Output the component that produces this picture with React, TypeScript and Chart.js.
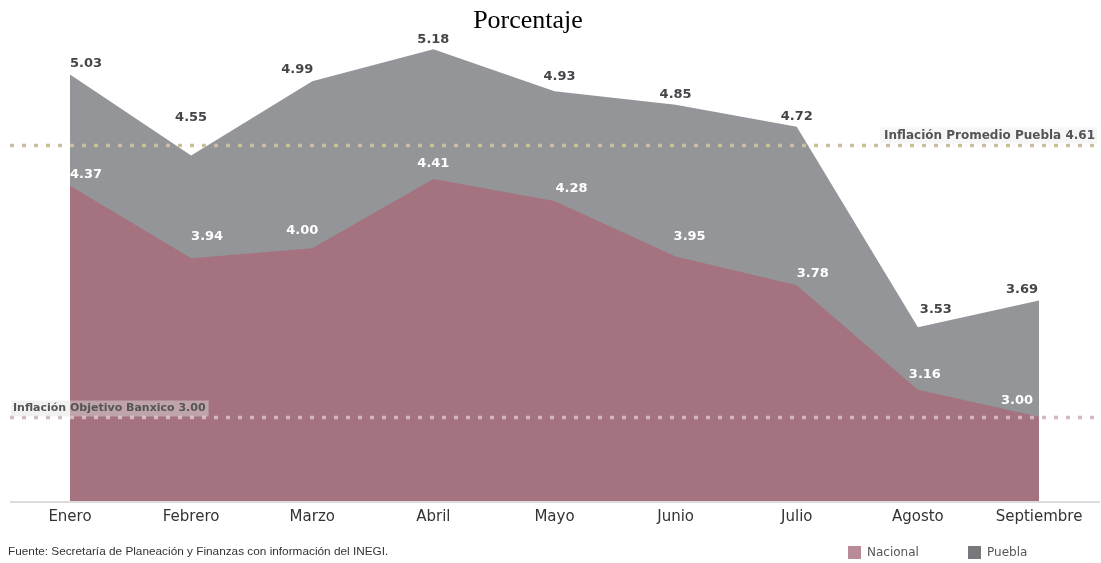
import React, { useEffect, useRef } from "react";
import { Chart, registerables } from "chart.js";

Chart.register(...registerables);

const months = ["Enero", "Febrero", "Marzo", "Abril", "Mayo", "Junio", "Julio", "Agosto", "Septiembre"];
const nacional = [4.37, 3.94, 4.0, 4.41, 4.28, 3.95, 3.78, 3.16, 3.0];
const puebla = [5.03, 4.55, 4.99, 5.18, 4.93, 4.85, 4.72, 3.53, 3.69];
const promedioPuebla = 4.61;
const objetivoBanxico = 3.0;

// label placement relative to each point (style only)
const pueblaLabelOffsets: [number, number][] = [
  [16, -11], [0, -38], [-15, -12], [0, -10], [5, -15], [0, -10], [0, -10], [18, -18], [-17, -11],
];
const nacionalLabelOffsets: [number, number][] = [
  [16, -11], [16, -22], [-10, -18], [0, -15], [17, -12], [14, -20], [16, -12], [7, -15], [-22, -16],
];

const FONT = "'DejaVu Sans', sans-serif";

const overlayPlugin = {
  id: "overlay",
  afterDatasetsDraw(chart: any) {
    const ctx = chart.ctx as CanvasRenderingContext2D;
    const y = chart.scales.y;
    const x = chart.scales.x;
    ctx.save();
    // baseline axis line
    ctx.strokeStyle = "#d0d0d0";
    ctx.lineWidth = 1.5;
    ctx.beginPath();
    ctx.moveTo(10, chart.chartArea.bottom + 1);
    ctx.lineTo(1100, chart.chartArea.bottom + 1);
    ctx.stroke();

    // dotted reference lines
    const drawDotted = (val: number, color: string) => {
      const py = Math.round(y.getPixelForValue(val)) + 0.5;
      ctx.strokeStyle = color;
      ctx.lineWidth = 3.5;
      ctx.setLineDash([4, 8]);
      ctx.beginPath();
      ctx.moveTo(10, py);
      ctx.lineTo(1096, py);
      ctx.stroke();
      ctx.setLineDash([]);
      return py;
    };
    const pyProm = drawDotted(promedioPuebla, "#c8bf9f");
    const pyObj = drawDotted(objetivoBanxico, "#d4b7c0");

    ctx.textBaseline = "middle";
    // Promedio label
    ctx.font = `bold 12px ${FONT}`;
    const t1 = `Inflación Promedio Puebla ${promedioPuebla.toFixed(2)}`;
    const w1 = ctx.measureText(t1).width;
    ctx.fillStyle = "rgba(245,245,245,0.9)";
    ctx.fillRect(1095 - w1 - 4, pyProm - 18, w1 + 6, 16);
    ctx.fillStyle = "#555";
    ctx.textAlign = "right";
    ctx.fillText(t1, 1095, pyProm - 10);
    // Objetivo label
    ctx.font = `bold 11px ${FONT}`;
    const t2 = `Inflación Objetivo Banxico ${objetivoBanxico.toFixed(2)}`;
    const w2 = ctx.measureText(t2).width;
    ctx.fillStyle = "rgba(225,225,225,0.45)";
    ctx.fillRect(11, pyObj - 17, w2 + 5, 16);
    ctx.fillStyle = "#555";
    ctx.textAlign = "left";
    ctx.fillText(t2, 13, pyObj - 9);

    // data labels
    ctx.font = `bold 13px ${FONT}`;
    ctx.textAlign = "center";
    puebla.forEach((v, i) => {
      const px = x.getPixelForValue(i);
      const py = y.getPixelForValue(v);
      const [dx, dy] = pueblaLabelOffsets[i];
      ctx.fillStyle = "#46464a";
      ctx.fillText(v.toFixed(2), px + dx, py + dy);
    });
    nacional.forEach((v, i) => {
      const px = x.getPixelForValue(i);
      const py = y.getPixelForValue(v);
      const [dx, dy] = nacionalLabelOffsets[i];
      ctx.fillStyle = "#ffffff";
      ctx.fillText(v.toFixed(2), px + dx, py + dy);
    });
    ctx.restore();
  },
};

export default function App() {
  const ref = useRef<HTMLCanvasElement | null>(null);
  useEffect(() => {
    if (!ref.current) return;
    const chart = new Chart(ref.current, {
      type: "line",
      data: {
        labels: months,
        datasets: [
          {
            label: "Nacional",
            data: nacional,
            backgroundColor: "#a5737f",
            borderWidth: 0,
            pointRadius: 0,
            fill: "start",
            order: 1,
          },
          {
            label: "Puebla",
            data: puebla,
            backgroundColor: "#939598",
            borderWidth: 0,
            pointRadius: 0,
            fill: "start",
            order: 2,
          },
        ],
      },
      options: {
        responsive: false,
        animation: false,
        layout: { padding: { left: 70, right: 62, top: 29, bottom: 32 } },
        plugins: {
          legend: { display: false },
          title: { display: false },
          tooltip: { enabled: false },
        },
        scales: {
          x: {
            offset: false,
            grid: { display: false },
            border: { display: false },
            ticks: { color: "#333", font: { family: FONT, size: 15 }, padding: -1, maxRotation: 0, autoSkip: false },
            afterFit: (s: any) => {
              s.height = 30;
            },
          },
          y: { display: false, min: 2.5, max: 5.3 },
        },
      },
      plugins: [overlayPlugin],
    });
    return () => chart.destroy();
  }, []);

  return (
    <div style={{ position: "fixed", left: 0, top: 0, width: 1101, height: 563, background: "#fff" }}>
      <canvas ref={ref} width={1101} height={563} style={{ position: "absolute", left: 0, top: 0 }} />
      <div
        style={{
          position: "absolute",
          left: 0,
          width: 1056,
          top: 5,
          textAlign: "center",
          fontFamily: "'Liberation Serif', 'Times New Roman', serif",
          fontSize: 26,
          color: "#000",
        }}
      >
        Porcentaje
      </div>
      <div
        style={{
          position: "absolute",
          left: 8,
          top: 544,
          fontFamily: "'Liberation Sans', sans-serif",
          fontSize: 11.8,
          color: "#333",
          whiteSpace: "nowrap",
        }}
      >
        Fuente: Secretaría de Planeación y Finanzas con información del INEGI.
      </div>
      <div
        style={{
          position: "absolute",
          left: 848,
          top: 545,
          display: "flex",
          alignItems: "center",
          fontFamily: FONT,
          fontSize: 12,
          color: "#555",
          whiteSpace: "nowrap",
        }}
      >
        <span style={{ display: "inline-block", width: 13, height: 13, background: "#b98b97", marginRight: 6 }} />
        <span style={{ width: 101 }}>Nacional</span>
        <span style={{ display: "inline-block", width: 13, height: 13, background: "#77777c", marginRight: 6 }} />
        <span>Puebla</span>
      </div>
    </div>
  );
}
